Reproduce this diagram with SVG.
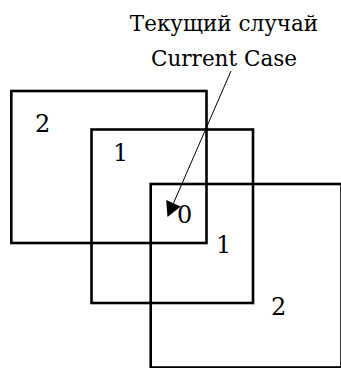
<svg xmlns="http://www.w3.org/2000/svg" width="341" height="368" viewBox="0 0 341 368">
<style>
.box{fill:none;stroke:#000;stroke-width:2.6}
text{font-family:'DejaVu Serif',serif;font-size:24px;fill:#000}
.cap{font-size:21.5px;text-anchor:middle}
</style>
<rect width="341" height="368" fill="#fff"/>
<g id="region2">
<rect class="box" x="11.3" y="91" width="195.2" height="152"/>
<text x="35" y="132">2</text>
</g>
<g id="region1">
<rect class="box" x="91.5" y="129.5" width="161.5" height="173.5"/>
<text x="113" y="161">1</text>
</g>
<g id="region0">
<rect class="box" x="150.7" y="184" width="190.8" height="183.5"/>
<text x="177" y="223">0</text>
</g>
<g id="labels">
<text x="216" y="253">1</text>
<text x="271" y="315">2</text>
</g>
<g id="caption">
<text class="cap" x="224" y="31">Текущий случай</text>
<text class="cap" x="224" y="66">Current Case</text>
</g>
<g id="connectors">
<line x1="231" y1="71" x2="173.5" y2="203.2" stroke="#000" stroke-width="1"/>
<polygon points="167.5,217 180.8,206.4 166.2,200" fill="#000"/>
</g>
</svg>
